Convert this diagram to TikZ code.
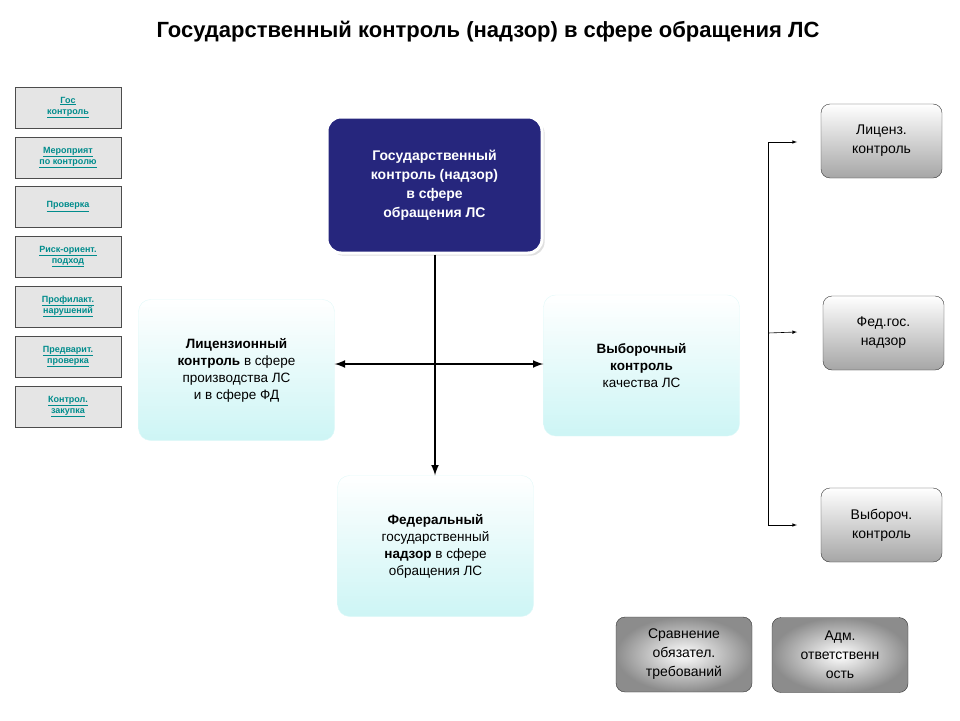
\documentclass[tikz,border=0pt]{standalone}
\usepackage{fontspec}
\setmainfont{Liberation Sans}
\usetikzlibrary{positioning}
\usetikzlibrary{shadows}

\definecolor{linkteal}{RGB}{0,140,140}
\definecolor{navybox}{RGB}{38,38,125}
\definecolor{icecyan}{RGB}{205,245,245}

\tikzset{
  menubox/.style={draw=black!70, thick, fill=black!10, minimum width=106pt,
    minimum height=41pt, align=center, font=\bfseries\fontsize{9}{11}\selectfont,
    text=linkteal},
  cyanbox/.style={rounded corners=12pt, draw=icecyan!60!white, top color=white,
    bottom color=icecyan, minimum width=196pt, minimum height=141pt, align=center,
    font=\fontsize{13.5}{17}\selectfont},
  graybox/.style={rounded corners=9pt, draw=black!80, top color=white,
    bottom color=black!35, minimum width=121pt, minimum height=74pt, align=center,
    font=\fontsize{14}{19}\selectfont},
  darkbox/.style={rounded corners=9pt, draw=black!80, inner color=white,
    outer color=black!45, minimum width=136pt, minimum height=75pt, align=center,
    font=\fontsize{14}{19}\selectfont},
  bigarrow/.style={line width=2.5pt, -latex},
  thinarrow/.style={semithick, -latex}
}

\begin{document}
\begin{tikzpicture}[x=1pt, y=-1pt]
  \useasboundingbox (0,0) rectangle (960,720);

  \node (title) at (488,32) {\bfseries\fontsize{22}{26}\selectfont
    Государственный контроль (надзор) в сфере обращения ЛС};

  % left menu
  \node[menubox] (gos) at (68,107.5) {\underline{Гос}\\\underline{контроль}};
  \node[menubox] (merop) at (68,157.5) {\underline{Мероприят}\\\underline{по контролю}};
  \node[menubox] (prov) at (68,206.5) {\underline{Проверка}};
  \node[menubox] (risk) at (68,256.5) {\underline{Риск-ориент.}\\\underline{подход}};
  \node[menubox] (profil) at (68,306.5) {\underline{Профилакт.}\\\underline{нарушений}};
  \node[menubox] (predv) at (68,356.5) {\underline{Предварит.}\\\underline{проверка}};
  \node[menubox] (zakup) at (68,406.5) {\underline{Контрол.}\\\underline{закупка}};

  % central block
  \node[rounded corners=14pt, fill=navybox, draw=white, line width=3pt,
    drop shadow={opacity=0.25}, minimum width=215pt, minimum height=136pt,
    align=center, text=white, font=\bfseries\fontsize{14}{19}\selectfont]
    (main) at (434.5,185) {Государственный\\контроль (надзор)\\в сфере\\обращения ЛС};

  \node[cyanbox] (licen) at (236.5,370) {\textbf{Лицензионный}\\\textbf{контроль} в сфере\\производства ЛС\\и в сфере ФД};
  \node[cyanbox] (vybor) at (641.5,365.5) {\textbf{Выборочный}\\\textbf{контроль}\\качества ЛС};
  \node[cyanbox] (feder) at (435.5,546) {\textbf{Федеральный}\\государственный\\\textbf{надзор} в сфере\\обращения ЛС};

  \coordinate (cross) at (435,364);
  \draw[bigarrow] (main.south -| cross) -- (feder.north -| cross);
  \draw[bigarrow, latex-latex] (licen.east |- cross) -- (vybor.west |- cross);

  % right column
  \node[graybox] (licz) at (881.5,141) {Лиценз.\\контроль};
  \node[graybox] (fedg) at (883.5,333) {Фед.гос.\\надзор};
  \node[graybox] (vyb) at (881.5,525) {Выбороч.\\контроль};

  \coordinate (rail) at (768,142);
  \draw[semithick] (rail) -- (rail |- vyb);
  \draw[thinarrow] (rail) -- (797,142);
  \draw[thinarrow] (rail |- fedg) -- (797,332);
  \draw[thinarrow] (rail |- vyb) -- (797,525);

  % bottom
  \node[darkbox] (sravn) at (684,654.5) {Сравнение\\обязател.\\требований};
  \node[darkbox] (adm) at (840,655) {Адм.\\ответственн\\ость};
\end{tikzpicture}
\end{document}
